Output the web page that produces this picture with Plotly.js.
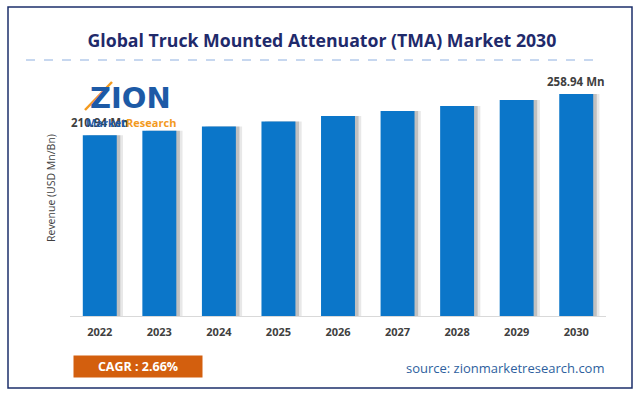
<!DOCTYPE html>
<html>
<head>
<meta charset="utf-8">
<script src="https://cdn.plot.ly/plotly-3.0.1.min.js"></script>
<style>html,body{margin:0;padding:0;background:#fff;}#chart{width:635px;height:395px;}</style>
</head>
<body>
<div id="chart"></div>
<script>
const years = ["2022","2023","2024","2025","2026","2027","2028","2029","2030"];
const revenue = [210.94, 216.0, 221.0, 226.8, 233.2, 239.2, 245.0, 252.0, 258.94];
const valueLabels = ["210.94 Mn","","","","","","","","258.94 Mn"];
const titleText = "Global Truck Mounted Attenuator (TMA) Market 2030";
const yTitle = "Revenue (USD Mn/Bn)";
const cagrText = "CAGR : 2.66%";
const sourceText = "source: zionmarketresearch.com";

// plot area in pixels: x 70..606, y 70..316
const L = 70, R = 606, T = 70, B = 316;
const px = x => (x - L) / (R - L);
const py = y => (B - y) / (B - T);

const shadowFar = {
  type: 'bar', x: years, y: revenue,
  marker: {color: 'rgba(110,110,110,0.16)', line: {width: 0}},
  width: 0.57, offset: -0.285 + 0.105,
  hoverinfo: 'skip', showlegend: false
};
const shadowNear = {
  type: 'bar', x: years, y: revenue,
  marker: {color: 'rgba(90,90,90,0.28)', line: {width: 0}},
  width: 0.57, offset: -0.285 + 0.06,
  hoverinfo: 'skip', showlegend: false
};
const bars = {
  type: 'bar', x: years, y: revenue,
  marker: {color: '#0b76c9', line: {width: 0}},
  width: 0.57, offset: -0.285,
  showlegend: false
};

const annotations = [];
years.forEach((yr, i) => {
  if (valueLabels[i]) {
    annotations.push({
      x: i, y: revenue[i], xref: 'x', yref: 'y',
      text: valueLabels[i], showarrow: false,
      yanchor: 'bottom', yshift: 3,
      font: {family: 'Open Sans', size: 11.5, color: '#404040', weight: 'bold'}
    });
  }
});
annotations.push({
  xref: 'paper', yref: 'paper', x: px(42), y: py(188),
  text: yTitle, textangle: -90, showarrow: false,
  font: {family: 'Open Sans', size: 10.5, color: '#404040'}
});
annotations.push({
  xref: 'paper', yref: 'paper', x: px(73), y: py(355),
  xanchor: 'left', yanchor: 'top', width: 128, height: 21,
  bgcolor: '#d35f0e', borderpad: 0, showarrow: false,
  text: cagrText, align: 'center', valign: 'middle',
  font: {family: 'Open Sans', size: 12.5, color: '#ffffff', weight: 'bold'}
});
annotations.push({
  xref: 'paper', yref: 'paper', x: px(606), y: py(368),
  xanchor: 'right', yanchor: 'middle', showarrow: false,
  text: sourceText,
  font: {family: 'Open Sans', size: 13, color: '#2e5f9e'}
});
// logo
annotations.push({
  xref: 'paper', yref: 'paper', x: px(130), y: py(98),
  xanchor: 'center', yanchor: 'middle', showarrow: false,
  text: 'ZION',
  font: {family: 'DejaVu Sans', size: 29, color: '#1d5aa6', weight: 'bold'}
});
annotations.push({
  xref: 'paper', yref: 'paper', x: px(131), y: py(122),
  xanchor: 'center', yanchor: 'middle', showarrow: false,
  text: '<span style="color:#1d5aa6">Market</span><span style="color:#f39a1e">Research</span>',
  font: {family: 'Open Sans', size: 11, weight: 'bold'}
});

const shapes = [
  {type: 'rect', xref: 'paper', yref: 'paper', x0: px(8), x1: px(632), y0: py(388), y1: py(7),
   line: {color: '#1c2f6b', width: 1.5}, fillcolor: 'rgba(0,0,0,0)', layer: 'below'},
  {type: 'line', xref: 'paper', yref: 'paper', x0: px(26), x1: px(602), y0: py(60), y1: py(60),
   line: {color: '#8fb0e0', width: 1, dash: 'dash'}},
  {type: 'line', xref: 'paper', yref: 'paper', x0: px(85), x1: px(112), y0: py(110), y1: py(82),
   line: {color: '#f39a1e', width: 2.5}, layer: 'above'}
];

const layout = {
  width: 635, height: 395,
  margin: {l: L, r: 635 - R, t: T, b: 395 - B, pad: 0},
  paper_bgcolor: '#ffffff', plot_bgcolor: '#ffffff',
  title: {
    text: titleText, x: 0.507, xanchor: 'center', y: 1 - 41/395, yanchor: 'middle', yref: 'container',
    font: {family: 'Open Sans', size: 17.7, color: '#1f2a6b', weight: 'bold'}
  },
  xaxis: {
    type: 'category', categoryorder: 'array', categoryarray: years,
    range: [-0.5, years.length - 0.5], autorange: false,
    showgrid: false, zeroline: false,
    showline: true, linecolor: '#d9d9d9', linewidth: 1,
    ticks: '', ticklabelstandoff: 6,
    tickfont: {family: 'Open Sans', size: 11, color: '#404040', weight: 'bold'}
  },
  yaxis: {
    range: [0, 287], autorange: false, showgrid: false, zeroline: false, showline: false,
    showticklabels: false, ticks: ''
  },
  bargap: 0.43, barmode: 'overlay',
  annotations: annotations, shapes: shapes,
  showlegend: false
};

Plotly.newPlot('chart', [shadowFar, shadowNear, bars], layout, {displayModeBar: false, staticPlot: true});
</script>
</body>
</html>
